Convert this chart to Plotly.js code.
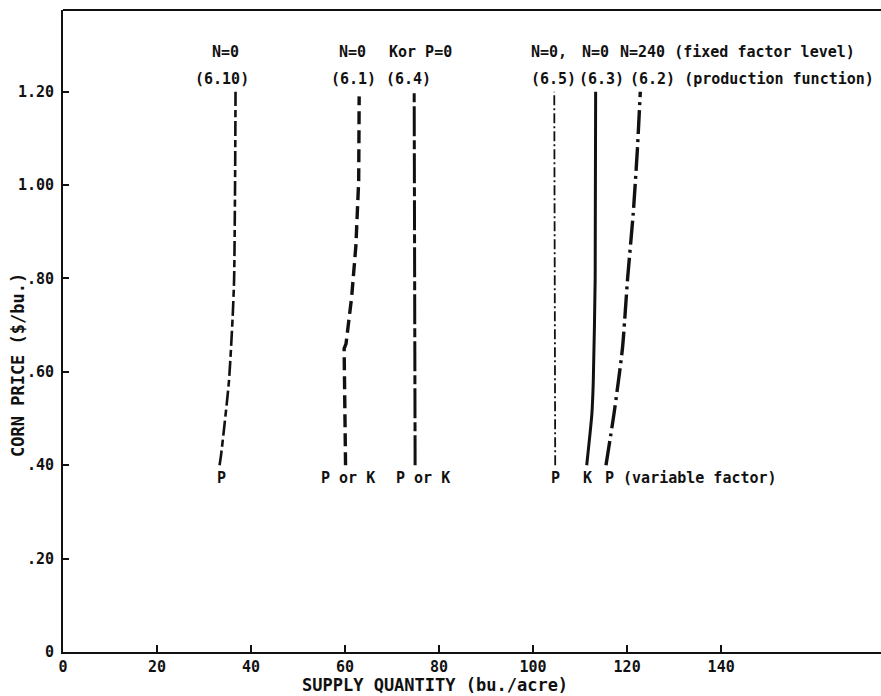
<!DOCTYPE html>
<html>
<head>
<meta charset="utf-8">
<script src="https://cdn.plot.ly/plotly-3.0.1.min.js"></script>
<style>html,body{margin:0;padding:0;background:#fff;}#chart{width:881px;height:696px;}</style>
</head>
<body>
<div id="chart"></div>
<script>
// ---- data ----
const eqNames = ['(6.10)', '(6.1)', '(6.4)', '(6.5)', '(6.3)', '(6.2)'];

const price610 = [0.40, 0.42, 0.58, 0.72, 0.80, 1.00, 1.20];
const qty610   = [33.3, 33.6, 35.3, 36.1, 36.4, 36.6, 36.7];

const price61 = [0.40, 0.65, 0.66, 0.76, 0.87, 1.01, 1.19];
const qty61   = [60.1, 59.8, 60.2, 61.4, 62.3, 62.9, 63.0];

const price64 = [0.40, 1.20];
const qty64   = [74.9, 74.7];

const price65 = [0.40, 1.20];
const qty65   = [104.7, 104.5];

const price63 = [0.40, 0.51, 0.58, 0.80, 1.20];
const qty63   = [111.4, 112.5, 112.8, 113.2, 113.3];

const price62 = [0.40, 0.51, 0.65, 0.80, 0.94, 1.08, 1.20];
const qty62   = [115.5, 117.2, 119.0, 120.1, 121.3, 122.2, 122.8];

const fixedLabels    = ['N=0', 'N=0', 'Kor P=0', 'N=0,', 'N=0', 'N=240 (fixed factor level)'];
const eqLabels       = ['(6.10)', '(6.1)', '(6.4)', '(6.5)', '(6.3)', '(6.2) (production function)'];
const variableLabels = ['P', 'P or K', 'P or K', 'P', 'K', 'P (variable factor)'];

const xTickVals = [0, 20, 40, 60, 80, 100, 120, 140];
const xTickText = ['0', '20', '40', '60', '80', '100', '120', '140'];
const yTickVals = [0, 0.2, 0.4, 0.6, 0.8, 1.0, 1.2];
const yTickText = ['0', '.20', '.40', '.60', '.80', '1.00', '1.20'];

// ---- styling ----
const FONT = 'DejaVu Sans Mono, Liberation Mono, monospace';
const ink = '#111';
const series = [
  {x: qty610, y: price610, dash: '15px,4px,7px,4px', w: 2.6, shape: 'spline'},
  {x: qty61,  y: price61,  dash: '13px,6px',          w: 3.4, shape: 'linear'},
  {x: qty64,  y: price64,  dash: '30px,4px,9px,4px',  w: 3.0, shape: 'linear'},
  {x: qty65,  y: price65,  dash: '10px,3px,2px,3px',  w: 1.8, shape: 'linear'},
  {x: qty63,  y: price63,  dash: 'solid',             w: 3.0, shape: 'spline'},
  {x: qty62,  y: price62,  dash: '24px,5px,3px,5px',  w: 3.4, shape: 'spline'}
];
const traces = series.map((s, i) => ({
  type: 'scatter', mode: 'lines', name: eqNames[i],
  x: s.x, y: s.y,
  line: {color: ink, width: s.w, dash: s.dash, shape: s.shape, smoothing: 0.6},
  hoverinfo: 'skip', showlegend: false
}));

// label placement (layout)
const fixedX   = [34.5, 61.5, 76.0, 103.4, 113.2, 118.1];
const eqX      = [33.8, 61.7, 73.4, 104.3, 114.5, 120.2];
const varX     = [33.8, 60.6, 76.6, 104.7, 111.5, 114.9];
const anchorOf = i => (i === 5 ? 'left' : 'center');
const txtFont = {family: FONT, size: 15, color: ink, weight: 'bold'};
const titleFont = {family: FONT, size: 17, color: ink, weight: 'bold'};

const annotations = [];
fixedLabels.forEach((t, i) => annotations.push({x: fixedX[i], y: 1.285, xref: 'x', yref: 'y', text: t, showarrow: false, xanchor: anchorOf(i), yanchor: 'middle', font: txtFont}));
eqLabels.forEach((t, i) => annotations.push({x: eqX[i], y: 1.227, xref: 'x', yref: 'y', text: t, showarrow: false, xanchor: anchorOf(i), yanchor: 'middle', font: txtFont}));
variableLabels.forEach((t, i) => annotations.push({x: varX[i], y: 0.372, xref: 'x', yref: 'y', text: t, showarrow: false, xanchor: anchorOf(i), yanchor: 'middle', font: txtFont}));
annotations.push({x: 435, y: 685, xref: 'paper', yref: 'paper', text: 'SUPPLY QUANTITY (bu./acre)', showarrow: false, font: titleFont});
annotations.push({x: 18, y: 365, xref: 'paper', yref: 'paper', text: 'CORN PRICE ($/bu.)', textangle: -90, showarrow: false, font: titleFont});

// convert pixel-placed title annotations to paper coords
const W = 881, H = 696, L = 63, R = 0, T = 10, B = 44;
annotations.slice(-2).forEach(a => {
  a.x = (a.x - L) / (W - L - R);
  a.y = (H - B - a.y) / (H - T - B);
  a.xanchor = 'center'; a.yanchor = 'middle';
});

const layout = {
  width: W, height: H,
  margin: {l: L, r: R, t: T, b: B, pad: 0},
  paper_bgcolor: '#fff', plot_bgcolor: '#fff',
  font: {family: FONT, size: 14, color: ink},
  showlegend: false,
  xaxis: {
    range: [0, 174], showgrid: false, zeroline: false,
    showline: true, linecolor: ink, linewidth: 2,
    ticks: 'inside', ticklen: 7, tickwidth: 2, tickcolor: ink,
    tickvals: xTickVals, ticktext: xTickText,
    tickfont: {family: FONT, size: 15, color: ink, weight: 'bold'},
    fixedrange: true
  },
  yaxis: {
    range: [0, 1.375], showgrid: false, zeroline: false,
    showline: true, linecolor: ink, linewidth: 2,
    ticks: 'inside', ticklen: 6, tickwidth: 2, tickcolor: ink,
    tickvals: yTickVals, ticktext: yTickText,
    tickfont: {family: FONT, size: 15, color: ink, weight: 'bold'},
    ticklabelstandoff: 4,
    fixedrange: true
  },
  shapes: [{type: 'line', xref: 'paper', yref: 'paper', x0: 0, x1: 1, y0: 1, y1: 1, line: {color: ink, width: 2}}],
  annotations: annotations
};

Plotly.newPlot('chart', traces, layout, {displayModeBar: false, staticPlot: true});
</script>
</body>
</html>
